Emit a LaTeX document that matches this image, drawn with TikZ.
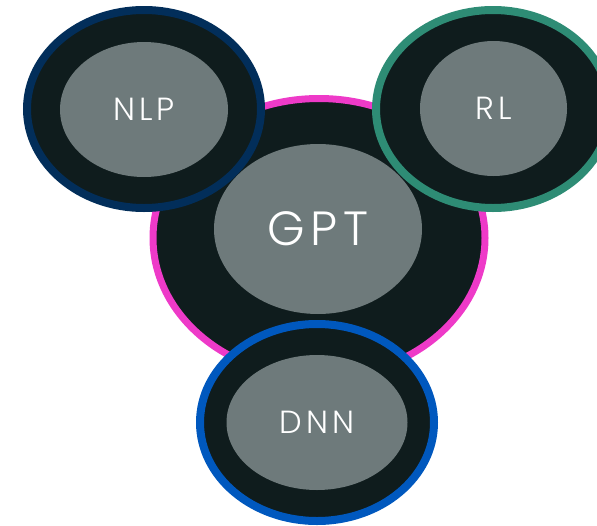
\documentclass[tikz,border=0pt]{standalone}
\usepackage{fontspec}
\setmainfont{Poppins}[UprightFont=* Light,LetterSpace=12]
\usetikzlibrary{shapes.geometric}

\definecolor{ringdark}{RGB}{15,28,29}
\definecolor{coregrey}{RGB}{110,122,123}
\definecolor{gptpink}{RGB}{238,58,200}
\definecolor{nlpnavy}{RGB}{2,46,90}
\definecolor{rlteal}{RGB}{46,140,117}
\definecolor{dnnblue}{RGB}{0,88,190}

\tikzset{
ring/.style={ellipse,draw,fill=ringdark,inner sep=0pt,line width=8pt},
core/.style={ellipse,fill=coregrey,text=white,inner sep=0pt},
small/.style={font=\fontsize{32}{38}\selectfont},
big/.style={font=\fontsize{48}{56}\selectfont}}

\begin{document}
\begin{tikzpicture}[x=1pt,y=1pt]
  \useasboundingbox (0,0) rectangle (597,-525);
  % centre
  \node[ring,draw=gptpink,line width=7pt,minimum width=332pt,minimum height=279pt] (gptring) at (319,-238) {};
  \node[core,big,minimum width=208pt,minimum height=170pt] (gpt) at (318,-229) {GPT};
  % satellites
  \node[ring,draw=nlpnavy,minimum width=234pt,minimum height=198pt] (nlpring) at (144,-109) {};
  \node[core,small,minimum width=168pt,minimum height=135pt] (nlp) at (144,-109.5) {NLP};
  \node[ring,draw=rlteal,minimum width=234pt,minimum height=198pt] (rlring) at (493,-109) {};
  \node[core,small,minimum width=147pt,minimum height=135pt] (rl) at (493.5,-108.5) {RL};
  \node[ring,draw=dnnblue,minimum width=234pt,minimum height=197pt] (dnnring) at (317,-422.5) {};
  \node[core,small,minimum width=181pt,minimum height=135pt] (dnn) at (317,-422.5) {DNN};
\end{tikzpicture}
\end{document}
